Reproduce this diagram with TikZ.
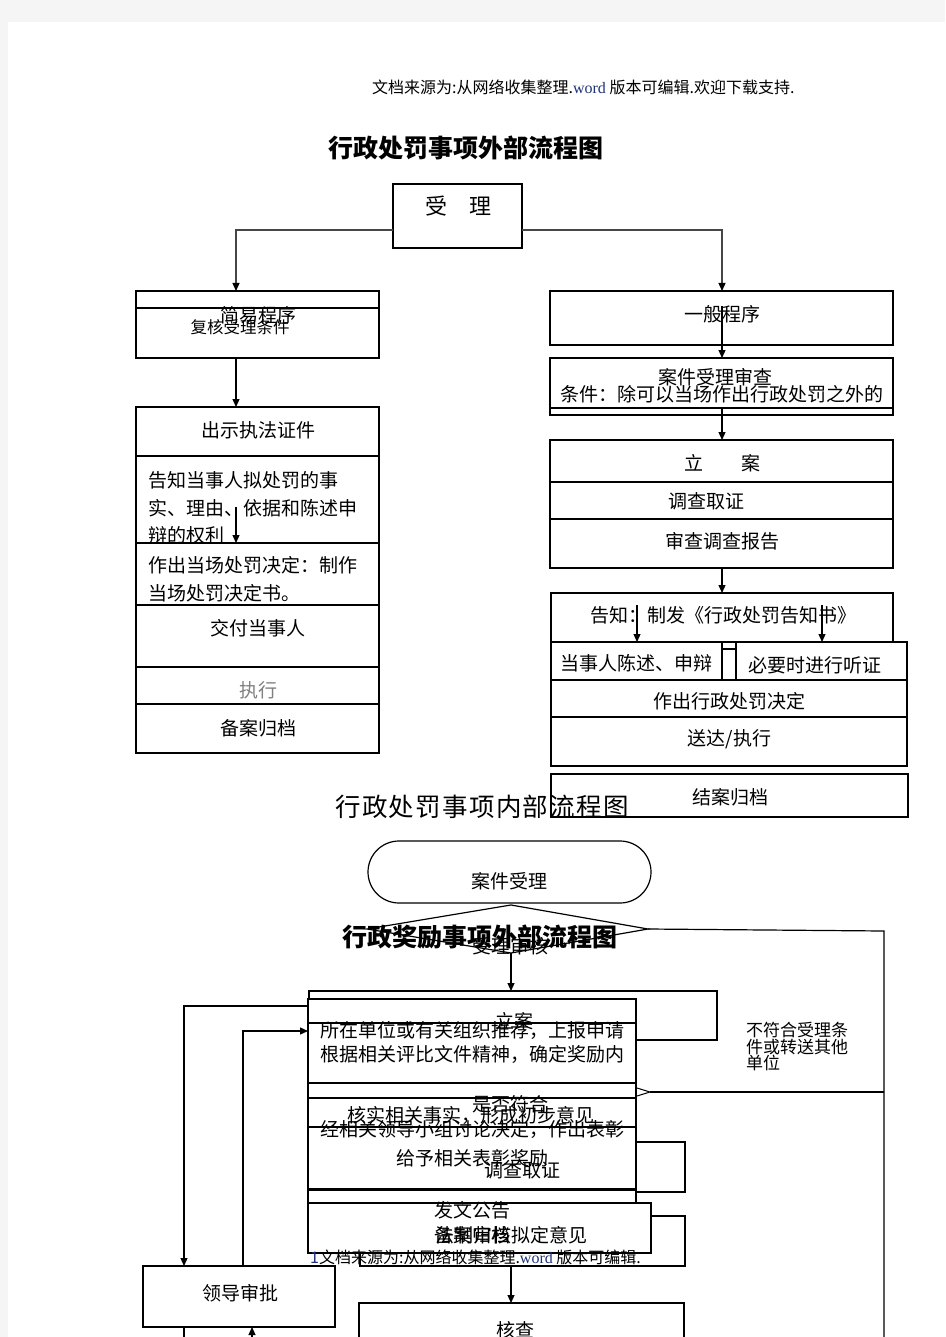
\documentclass[tikz,border=0pt]{standalone}
\usepackage{fontspec}
\setmainfont{Noto Sans CJK SC}
\newfontfamily\titleserif[LetterSpace=5]{Noto Sans CJK SC}
\newfontfamily\latinserif{Liberation Serif}
\usetikzlibrary{arrows.meta}
\definecolor{wordblue}{RGB}{30,50,120}
\definecolor{linegray}{RGB}{70,70,70}
\begin{document}
\begin{tikzpicture}[x=1pt,y=-1pt,
  txt/.style={inner sep=0pt, font=\fontsize{19}{22}\selectfont},
  small/.style={inner sep=0pt, font=\fontsize{16}{18}\selectfont},
  box/.style={draw, line width=1.2pt, inner sep=0pt, outer sep=0pt, fill=white},
  thickbox/.style={box, line width=2pt},
  ln/.style={line width=1.2pt},
  arr/.style={line width=1.2pt, -{Triangle[length=8pt,width=7pt]}},
  grayarr/.style={line width=1.2pt, draw=linegray, -{Triangle[length=8pt,width=7pt,fill=black,color=black]}}]
\fill[gray!8] (0,0) rectangle (945,1337);
\fill[white] (8,22) rectangle (945,1337);
\useasboundingbox (0,0) rectangle (945,1337);

% header and first title
\node[small, anchor=west] (hdr) at (372,87) {文档来源为:从网络收集整理.{\latinserif\color{wordblue}word} 版本可编辑.欢迎下载支持.};
\node[inner sep=0pt, font=\fontsize{25}{28}\selectfont\bfseries] (t1) at (466,148) {行政处罚事项外部流程图};

% accept box
\node[box, line width=1.8pt, minimum width=129, minimum height=64] (slz) at (457.5,216) {};
\node[inner sep=0pt, font=\fontsize{22}{24}\selectfont] (slzt) at (458,206) {受　理};
\coordinate (s1) at (393,230);
\coordinate (s2) at (522,230);

% simple procedure
\node[box, minimum width=243, minimum height=67] (jy) at (257.5,324.5) {};
\draw[ln] (jy.west |- 0,308) -- (jy.east |- 0,308);
\node[txt] (jyt) at (258,315) {简易程序};
\node[inner sep=0pt, font=\fontsize{16.5}{18}\selectfont] (jyt2) at (240,327) {复核受理条件};

% left column
\node[box, minimum width=243, minimum height=346] (lcol) at (257.5,580) {};
\foreach \yy in {456,543,605,667,704} {\draw[ln] (lcol.west |- 0,\yy) -- (lcol.east |- 0,\yy);}
\node[txt] (l1) at (258,430) {出示执法证件};
\node[txt, anchor=west] (l2a) at (148,480) {告知当事人拟处罚的事};
\node[txt, anchor=west] (l2b) at (148,508) {实、理由、依据和陈述申};
\node[txt, anchor=west] (l2c) at (148,535) {辩的权利};
\node[txt, anchor=west] (l3a) at (148,565) {作出当场处罚决定：制作};
\node[txt, anchor=west] (l3b) at (148,593) {当场处罚决定书。};
\node[txt] (l4) at (258,628) {交付当事人};
\node[txt, text=gray] (l5) at (258,690) {执行};
\node[txt] (l6) at (258,728) {备案归档};

% right column
\node[box, minimum width=343, minimum height=54] (yb) at (721.5,318) {};
\node[txt] (ybt) at (722,314) {一般程序};
\node[box, minimum width=343, minimum height=57] (ajsc) at (721.5,386.5) {};
\draw[ln] (ajsc.west |- 0,408) -- (ajsc.east |- 0,408);
\node[txt] (ajsct) at (715,377) {案件受理审查};
\node[txt] (ajsct2) at (722,394) {条件：除可以当场作出行政处罚之外的};
\node[box, minimum width=343, minimum height=128] (la) at (721.5,504) {};
\draw[ln] (la.west |- 0,482) -- (la.east |- 0,482);
\draw[ln] (la.west |- 0,519) -- (la.east |- 0,519);
\node[txt] (lat) at (722,463) {立　　案};
\node[txt] (lat2) at (706,501) {调查取证};
\node[txt] (lat3) at (722,541) {审查调查报告};

\node[box, minimum width=342, minimum height=49] (gz) at (722,617.5) {};
\node[box, minimum width=171, minimum height=38] (dsr) at (636.5,661) {};
\node[box, minimum width=171, minimum height=38] (tz) at (821.5,661) {};
\node[box, minimum width=356, minimum height=37] (zc) at (729,698.5) {};
\node[box, minimum width=356, minimum height=49] (sd) at (729,741.5) {};
\draw[ln] (dsr.east |- 0,649) -- (tz.west |- 0,649);
\node[txt] (gzt) at (723,615) {告知：制发《行政处罚告知书》};
\node[txt] (dsrt) at (636.5,663) {当事人陈述、申辩};
\node[txt] (tzt) at (815,665) {必要时进行听证};
\node[txt] (zct) at (729,701) {作出行政处罚决定};
\node[txt] (sdt) at (729.5,739) {送达/执行};
\node[box, minimum width=357, minimum height=43] (ja) at (729.5,795.5) {};
\node[txt] (jat) at (730,797) {结案归档};

% arrows of first chart
\draw[grayarr] (s1) -| ([xshift=-21.5pt]jy.north);
\draw[grayarr] (s2) -| ([xshift=0.5pt]yb.north);
\draw[arr] ([xshift=-21.5pt]jy.south) -- ([xshift=-21.5pt]lcol.north);
\coordinate (la1) at (236,507);
\draw[arr] (la1) -- (236,543);
\coordinate (r1) at (722,306);
\draw[arr] (r1) -- (ajsc.north -| r1);
\draw[arr] (722,408) -- (la.north -| r1);
\draw[arr] (la.south -| r1) -- (gz.north -| r1);
\coordinate (g1) at (637,605);
\coordinate (g2) at (822,605);
\draw[arr] (g1) -- (dsr.north -| g1);
\draw[arr] (g2) -- (tz.north -| g2);

% second title
\node[inner sep=0pt, font=\titleserif\fontsize{25.5}{28}\selectfont] (t2) at (482,807) {行政处罚事项内部流程图};

% stadium and diamond
\node[draw, line width=1.2pt, rounded corners=31pt, minimum width=283, minimum height=62, inner sep=0pt] (st) at (509.5,872) {};
\node[txt] (stt) at (509,881) {案件受理};
\coordinate (dt) at (511,905);
\coordinate (dr) at (648,929);
\coordinate (db) at (511,953);
\coordinate (dl) at (367,929);
\draw[ln] (dt) -- (dr) -- (db) -- (dl) -- cycle;
\node[txt] (dtx) at (510,946) {受理审核};
\node[inner sep=0pt, font=\fontsize{25}{28}\selectfont\bfseries] (t3) at (480,937) {行政奖励事项外部流程图};
\coordinate (rc) at (884,931);
\coordinate (rb) at (884,1345);
\draw[ln] (dr) -- (rc) -- (rb);

% messy stacked boxes
\node[box, minimum width=408, minimum height=49] (bA) at (513,1015.5) {};
\node[box, minimum width=125, minimum height=50] (bF) at (622.5,1167) {};
\node[box, minimum width=325, minimum height=50] (bE) at (522.5,1241) {};
\node[thickbox, minimum width=328, minimum height=190] (bB) at (472,1094) {};
\foreach \yy in {1023,1083,1098,1127} {\draw[ln] (bB.west |- 0,\yy) -- (bB.east |- 0,\yy);}
\node[box, minimum width=328, minimum height=50] (bC) at (472,1215) {};
\node[box, minimum width=343, minimum height=50] (bD) at (479.5,1228) {};
\draw[arr] (db) -- (bA.north -| db);

% texts in stacked boxes
\node[txt] (x1) at (514,1021) {立案};
\node[txt, anchor=west] (x2) at (320,1030) {所在单位或有关组织推荐，上报申请};
\node[txt, anchor=west] (x3) at (320,1054) {根据相关评比文件精神，确定奖励内};
\node[txt] (x4) at (510,1104) {是否符合};
\node[txt] (x5) at (471,1115) {核实相关事实，形成初步意见};
\node[txt, anchor=west] (x6) at (320,1129) {经相关领导小组讨论决定，作出表彰};
\node[txt] (x7) at (472.5,1158) {给予相关表彰奖励};
\node[txt] (x8) at (522,1170) {调查取证};
\node[txt] (x9) at (472,1210) {发文公告};
\node[txt] (x10) at (511,1235) {法制审核拟定意见};
\node[txt] (x11) at (472,1235) {备案归档};
\node[small, anchor=west] (ftr) at (310,1257) {{\color{wordblue}1}文档来源为:从网络收集整理.{\latinserif\color{wordblue}word} 版本可编辑.};

% reject branch
\coordinate (rt1) at (637,1088);
\coordinate (rt2) at (650,1092);
\coordinate (rt3) at (637,1096);
\draw[line width=1pt] (rt1) -- (rt2) -- (rt3);
\draw[ln] (rt2) -- (rc |- rt2);
\node[inner sep=0pt, font=\fontsize{17}{15.5}\selectfont, align=left, anchor=north west] (rej) at (746,1022) {不符合受理条\\件或转送其他\\单位};

% leader approval loop
\node[box, minimum width=192, minimum height=61] (ld) at (239,1296.5) {};
\node[txt] (ldt) at (240,1293) {领导审批};
\coordinate (lp1) at (308,1006);
\coordinate (lp2) at (308,1031);
\draw[arr] (lp1) -| ([xshift=-55pt]ld.north);
\draw[arr] ([xshift=4pt]ld.north) |- (lp2);
\coordinate (lb1) at (184,1345);
\coordinate (lb2) at (252,1345);
\draw[ln] ([xshift=-55pt]ld.south) -- (lb1);
\draw[arr] (lb2) -- ([xshift=13pt]ld.south);

% check box
\node[box, minimum width=325, minimum height=67] (hc) at (521.5,1336.5) {};
\node[txt] (hct) at (515,1330) {核查};
\draw[arr] (bE.south -| db) -- (hc.north -| db);
\end{tikzpicture}
\end{document}
